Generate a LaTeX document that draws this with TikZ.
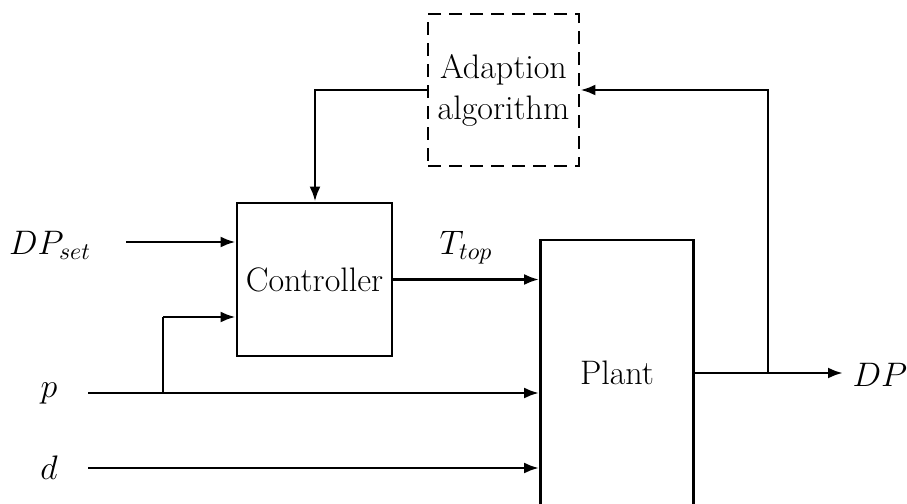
\documentclass[tikz,border=0pt]{standalone}
\usepackage{fix-cm}
\usetikzlibrary{arrows.meta}
\begin{document}
\begin{tikzpicture}[x=0.5pt,y=-0.5pt,
  every node/.style={font=\fontsize{17}{20.5}\selectfont, inner sep=0pt},
  block/.style={draw, line width=1.4pt, align=center},
  dashblock/.style={draw, line width=1.4pt, align=center, dash pattern=on 6.5pt off 4pt},
  wire/.style={line width=1.4pt},
  sig/.style={line width=1.4pt, -{Latex[length=7.5pt,width=5.5pt]}},
  lbl/.style={}
]
\useasboundingbox (0,0) rectangle (907,504);

% blocks
\node[dashblock, minimum width=75.5pt, minimum height=76pt] (adapt) at (503.5,90) {Adaption\\algorithm};
\node[block, minimum width=77.5pt, minimum height=76.5pt] (ctrl) at (314.5,279.5) {Controller};
\node[block, minimum width=76.5pt, minimum height=133pt] (plant) at (617,373) {Plant};

% signal labels
\node[lbl] (dpset) at (50,245) {$DP_{set}$};
\node[lbl] (p) at (49,393) {$p$};
\node[lbl] (d) at (49,468) {$d$};
\node[lbl] (ttop) at (466,248) {$T_{top}$};
\node[lbl] (dp) at (880,375) {$DP$};

% line ends and branch points
\coordinate (dpsetS) at (126,242);
\coordinate (pS) at (88,393);
\coordinate (dS) at (88,468);
\coordinate (pB) at (163,393);
\coordinate (pU) at (163,317);
\coordinate (outB) at (768,373);
\coordinate (outE) at (843,373);
\coordinate (fbL) at (315,90);

% inputs to the controller
\draw[sig] (dpsetS) -- (dpsetS -| ctrl.west);
\draw[wire] (pB) -- (pU);
\draw[sig] (pU) -- (pU -| ctrl.west);

% inputs to the plant
\draw[sig] (pS) -- (pS -| plant.west);
\draw[sig] (dS) -- (dS -| plant.west);
\draw[sig] (ctrl.east) -- (ctrl.east -| plant.west);

% plant output and adaption loop
\draw[sig] (plant.east) -- (outE);
\draw[sig] (outB) |- (adapt.east);
\draw[sig] (adapt.west) -- (fbL) -- (fbL |- ctrl.north);
\end{tikzpicture}
\end{document}
